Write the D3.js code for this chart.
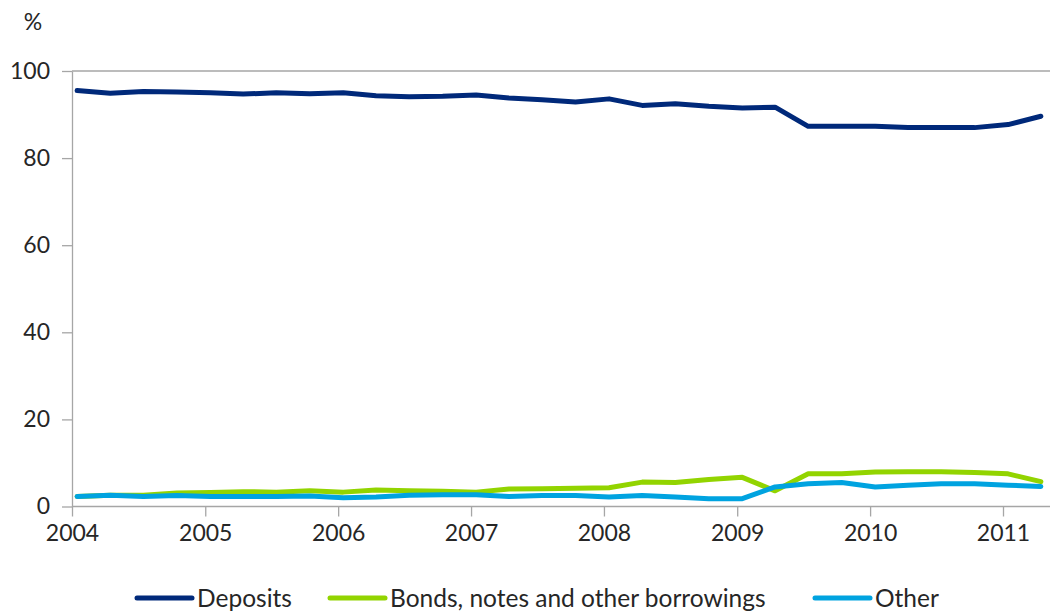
<!DOCTYPE html>
<html>
<head>
<meta charset="utf-8">
<script src="https://cdn.jsdelivr.net/npm/d3@7"></script>
<style>
  html, body { margin: 0; padding: 0; background: #fff; }
  svg { display: block; }
  text { font-family: Lato, "Open Sans", sans-serif; fill: #262626; }
</style>
</head>
<body>
<svg id="chart" width="1053" height="611"></svg>
<script>
// Quarterly observations (mid-month of each quarter's first month)
const quarters = [
  "2004-01","2004-04","2004-07","2004-10",
  "2005-01","2005-04","2005-07","2005-10",
  "2006-01","2006-04","2006-07","2006-10",
  "2007-01","2007-04","2007-07","2007-10",
  "2008-01","2008-04","2008-07","2008-10",
  "2009-01","2009-04","2009-07","2009-10",
  "2010-01","2010-04","2010-07","2010-10",
  "2011-01","2011-04"
];
const deposits = [95.5,94.9,95.3,95.2,95.0,94.7,95.0,94.8,95.0,94.3,94.1,94.2,94.5,93.8,93.4,92.9,
                  93.6,92.1,92.5,91.9,91.5,91.7,87.3,87.3,87.3,87.0,87.0,87.0,87.7,89.6];
const bonds    = [2.3,2.6,2.6,3.1,3.2,3.4,3.3,3.6,3.3,3.8,3.6,3.5,3.3,4.0,4.1,4.2,
                  4.3,5.6,5.5,6.2,6.7,3.6,7.5,7.5,7.9,8.0,8.0,7.8,7.5,5.7];
const other    = [2.3,2.6,2.3,2.5,2.3,2.3,2.3,2.4,2.0,2.2,2.6,2.7,2.7,2.3,2.5,2.5,
                  2.2,2.5,2.2,1.8,1.8,4.5,5.2,5.5,4.5,4.9,5.2,5.2,4.9,4.6];
const yTicks = [0, 20, 40, 60, 80, 100];
const xTickYears = [2004, 2005, 2006, 2007, 2008, 2009, 2010, 2011];
const seriesNames = ["Deposits", "Bonds, notes and other borrowings", "Other"];
const seriesColors = ["#00297A", "#92D400", "#00A3E0"];

const svg = d3.select("#chart");
const parse = d3.timeParse("%Y-%m-%d");
const dates = quarters.map(q => parse(q + "-15"));

const x = d3.scaleTime()
  .domain([new Date(2004, 0, 1), new Date(2011, 0, 1)])
  .range([72, 1003]);
const xRight = 1050;
const y = d3.scaleLinear().domain([0, 100]).range([506.5, 71]);

// top boundary line at 100
svg.append("line")
  .attr("x1", 72).attr("x2", xRight)
  .attr("y1", y(100)).attr("y2", y(100))
  .attr("stroke", "#A6A6A6").attr("stroke-width", 1.3);

// Y axis
const yAxis = svg.append("g").attr("transform", "translate(72,0)")
  .call(d3.axisLeft(y).tickValues(yTicks).tickSize(10).tickSizeOuter(0).tickPadding(12));
yAxis.select(".domain").attr("stroke", "#A6A6A6").attr("stroke-width", 1.3);
yAxis.selectAll(".tick line").attr("stroke", "#A6A6A6").attr("stroke-width", 1.3);
yAxis.selectAll(".tick text").attr("font-size", 23).attr("fill", "#262626")
  .style("font-family", "Lato, sans-serif");

// X axis
const xAxis = svg.append("g").attr("transform", `translate(0,${y(0)})`)
  .call(d3.axisBottom(x)
    .tickValues(xTickYears.map(yr => new Date(yr, 0, 1)))
    .tickFormat(d3.timeFormat("%Y"))
    .tickSize(10).tickSizeOuter(0).tickPadding(8));
xAxis.select(".domain").attr("d", `M72,0H${xRight}`).attr("stroke", "#A6A6A6").attr("stroke-width", 1.3);
xAxis.selectAll(".tick line").attr("stroke", "#A6A6A6").attr("stroke-width", 1.3);
xAxis.selectAll(".tick text").attr("font-size", 23).attr("fill", "#262626")
  .style("font-family", "Lato, sans-serif");

// % label
svg.append("text").attr("x", 33).attr("y", 30)
  .attr("text-anchor", "middle").attr("font-size", 23).text("%");

// lines
const line = d3.line().x((d, i) => x(dates[i])).y(d => y(d));
const allSeries = [deposits, bonds, other];
allSeries.forEach((s, k) => {
  svg.append("path").datum(s)
    .attr("d", line)
    .attr("fill", "none")
    .attr("stroke", seriesColors[k])
    .attr("stroke-width", 5)
    .attr("stroke-linejoin", "round")
    .attr("stroke-linecap", "round");
});

// legend
const legendX = [137, 330, 815];
const lg = svg.append("g");
seriesNames.forEach((name, k) => {
  lg.append("line")
    .attr("x1", legendX[k]).attr("x2", legendX[k] + 55)
    .attr("y1", 598).attr("y2", 598)
    .attr("stroke", seriesColors[k]).attr("stroke-width", 5)
    .attr("stroke-linecap", "round");
  lg.append("text")
    .attr("x", legendX[k] + 60).attr("y", 607)
    .attr("font-size", 24.5).text(name);
});
</script>
</body>
</html>
